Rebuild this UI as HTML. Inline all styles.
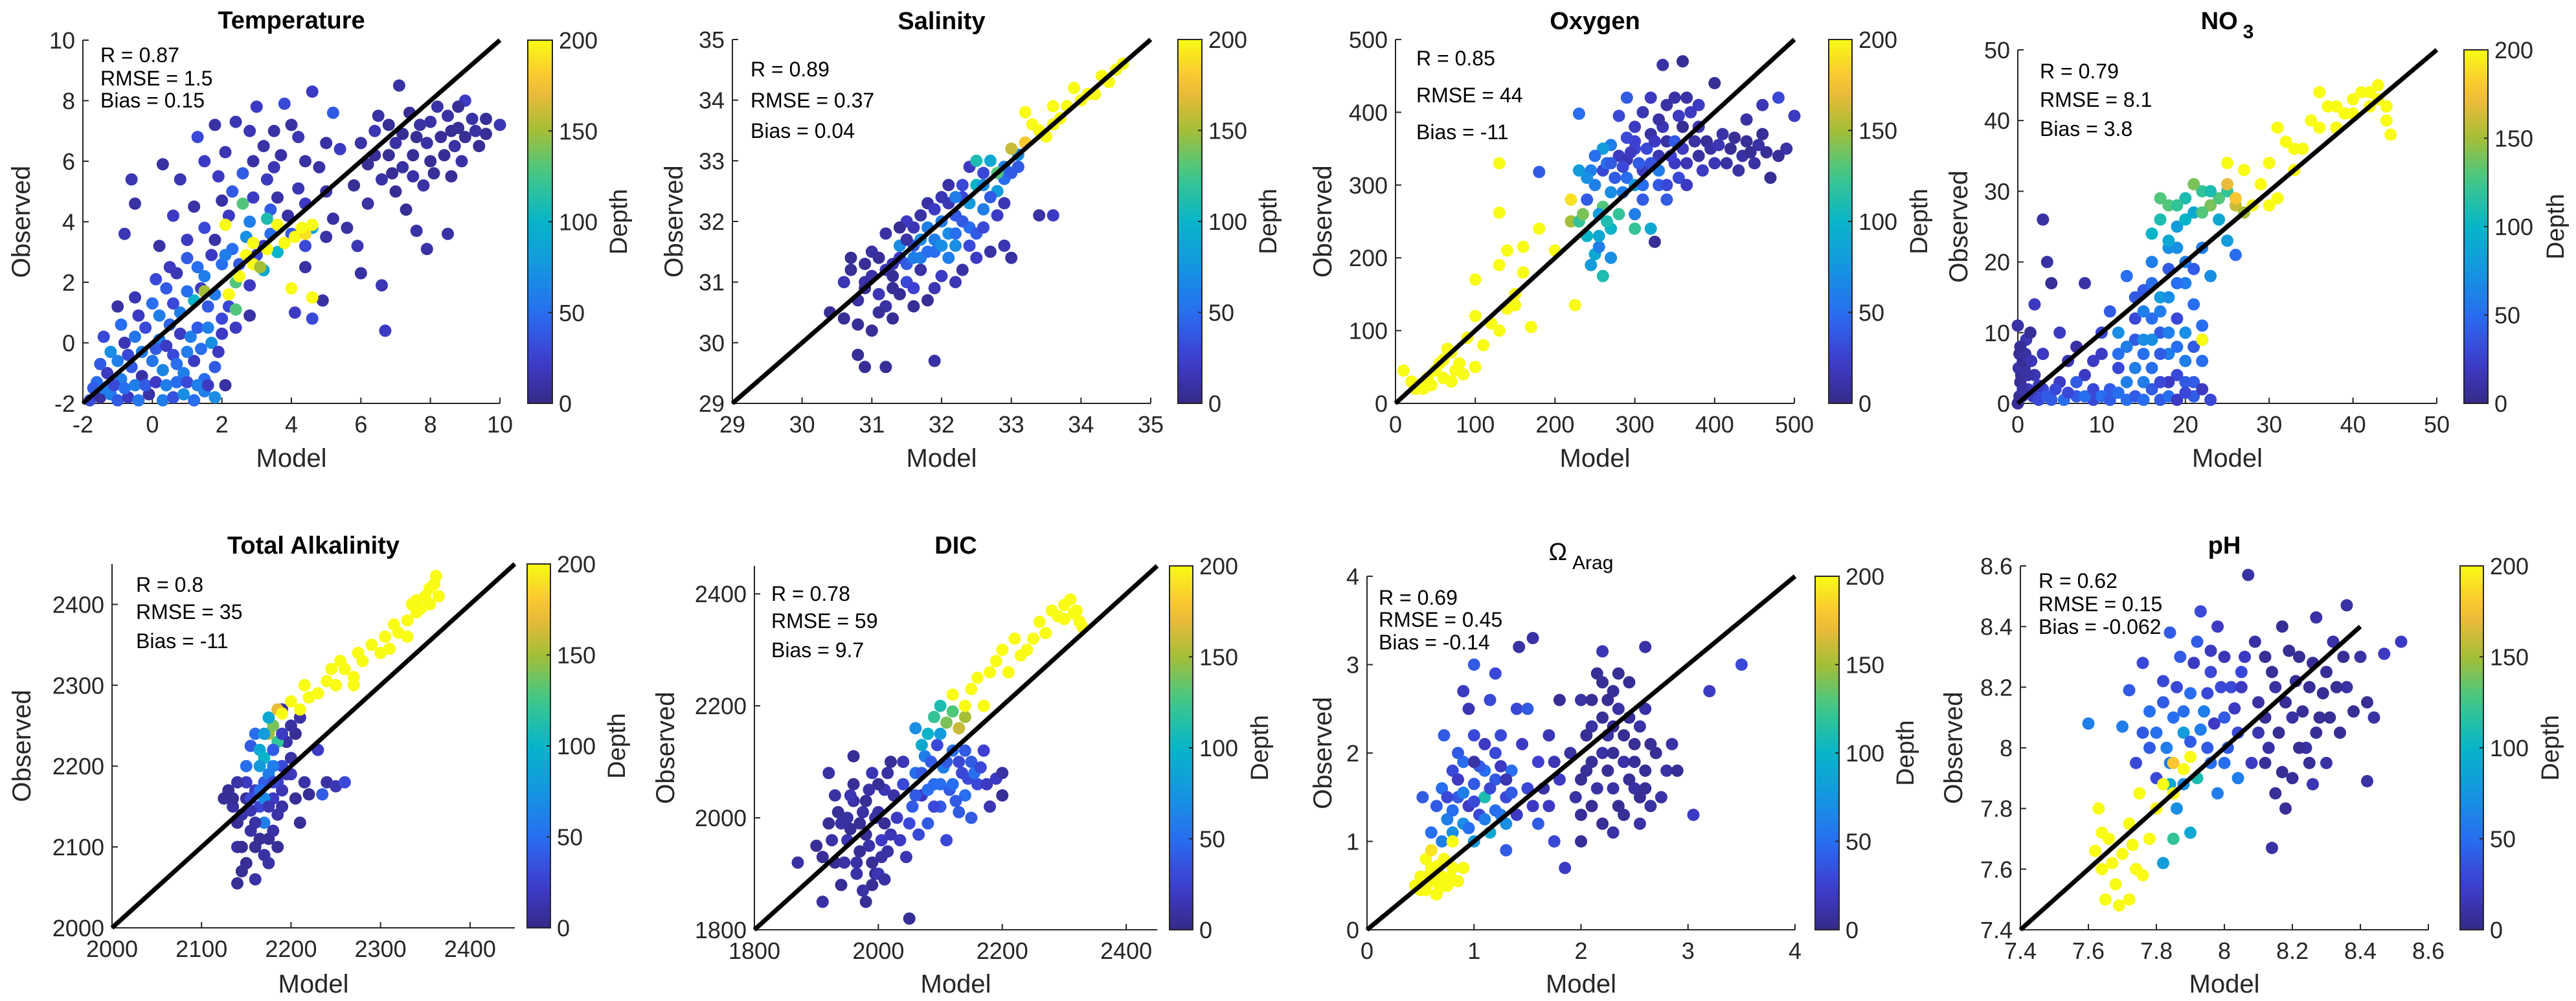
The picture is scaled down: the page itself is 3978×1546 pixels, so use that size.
<!DOCTYPE html>
<html><head><meta charset="utf-8">
<style>
html,body{margin:0;padding:0;background:#fff;}
svg{display:block;font-family:"Liberation Sans Narrow","Liberation Sans",sans-serif;}
</style></head>
<body>
<svg id="fig" xmlns="http://www.w3.org/2000/svg" width="3978" height="1546" viewBox="0 0 3978 1546"></svg>
<script>
// ---------- DATA: [model, observed, depth] ----------
const tempPts=[[-1.8,-1.9,30],[-1.5,-1.8,10],[-1.2,-1.7,60],[-1,-1.9,40],[-0.7,-1.8,20],[-0.4,-1.9,55],[-0.1,-1.7,10],[0.3,-1.9,60],[0.6,-1.8,35],[0.9,-1.7,70],[1.2,-1.9,50],[1.5,-1.6,60],[1.8,-1.8,70],[-1.6,-1.3,50],[-1.3,-1.0,20],[-0.9,-1.2,60],[-0.6,-0.8,40],[-0.3,-1.1,10],[0,-0.6,55],[0.3,-0.9,65],[0.6,-0.4,30],[0.9,-1.0,60],[1.2,-0.6,20],[1.5,-1.2,50],[1.8,-0.8,40],[2.1,-1.4,10],[-1.2,-0.3,70],[-0.8,0,15],[-0.5,0.2,55],[-0.2,0.5,30],[0.2,0.1,60],[0.5,0.6,45],[0.8,0.3,20],[1.1,0.2,60],[1.4,-0.2,50],[1.7,0.0,70],[2.0,0.3,20],[-1.0,1.2,10],[-0.5,1.5,15],[0,1.3,50],[0.4,1.8,40],[0.8,1.0,60],[1.2,1.4,100],[1.6,1.2,40],[2.0,0.8,30],[2.4,0.5,20],[2.8,0.9,10],[0.5,2.5,20],[1.0,2.8,40],[1.5,2.2,60],[2.0,2.6,50],[2.4,2.0,130],[2.8,1.9,20],[3.2,2.4,90],[1.8,3.4,10],[2.3,3.1,50],[2.7,3.5,70],[3.2,3.2,20],[3.6,3.0,100],[4.0,3.6,40],[4.4,3.2,30],[2.2,4.2,20],[2.8,4.0,60],[3.4,4.4,40],[3.9,4.2,10],[4.6,3.8,80],[5.2,4.1,10],[5.6,3.8,10],[1.2,4.5,10],[0.6,4.2,20],[-0.5,4.6,10],[-0.8,3.6,15],[-0.6,5.4,15],[0.3,5.9,10],[0.8,5.4,15],[1.5,6.0,20],[2.1,6.3,15],[2.6,5.6,40],[3.2,6.5,10],[3.7,6.2,10],[4.2,6.8,15],[1.3,6.8,30],[2.4,7.3,15],[3.0,7.8,20],[4.0,7.2,10],[4.6,8.3,20],[3.8,7.9,30],[1.8,7.2,10],[2.3,5.0,40],[3.3,5.4,20],[4.2,5.1,15],[4.8,5.8,10],[5.4,6.4,20],[5.2,7.6,40],[6.0,6.6,10],[6.4,7.0,15],[6.8,6.2,5],[7.2,5.8,10],[7.6,6.8,5],[8.0,7.3,10],[8.4,6.2,5],[8.8,7.1,5],[9.2,7.4,10],[9.6,6.9,5],[10,7.2,15],[9.0,8.0,20],[8.2,7.8,10],[7.4,7.6,5],[6.6,5.4,10],[7.0,5.0,5],[7.8,5.2,10],[8.6,5.5,5],[6.2,4.6,10],[5.8,5.2,5],[7.1,8.5,10],[6.5,7.5,10],[7.3,4.4,5],[9.4,6.5,5],[8.0,6.0,5],[5.0,3.5,10],[6.0,2.3,10],[6.6,1.9,15],[6.7,0.4,20],[7.6,3.7,10],[8.5,3.6,10],[7.9,3.1,10],[5.9,3.2,15],[4.9,1.4,10],[4.1,1.0,20],[4.6,0.8,30],[4.4,2.5,10],
[-1.7,-1.5,40],[-1.4,-1.5,60],[-1.1,-1.4,30],[-0.8,-1.5,50],[-0.5,-1.4,60],[-0.2,-1.4,40],[0.1,-1.3,20],[0.4,-1.4,60],[0.7,-1.3,50],[1.0,-1.3,30],[1.3,-1.4,60],[1.6,-1.4,20],[-1.5,-0.7,40],[-1.0,-0.6,60],[-0.7,-0.4,30],[-0.3,-0.3,60],[0.1,-0.2,40],[0.4,-0.1,20],[0.7,-0.7,50],[1.0,-0.3,60],[1.3,0.5,40],[1.6,0.5,60],[1.9,-0.3,20],[-1.4,0.2,30],[-0.9,0.6,50],[-0.4,0.9,20],[0.2,0.9,60],[0.6,1.3,30],[1.0,1.7,50],[1.4,1.8,20],[1.8,1.6,60],[2.2,1.2,30],[0.1,2.1,30],[0.7,2.3,15],[1.3,2.5,50],[1.7,2.9,20],[2.1,2.9,60],[2.5,2.6,40],[3.0,2.9,30],[3.4,3.6,50],[1.0,3.4,20],[0.2,3.2,10],[1.5,3.8,30],[2.0,4.7,10],[2.9,4.8,20],[3.6,4.8,10],[4.4,4.6,20],[5.0,5.0,10],[1.9,5.5,20],[2.9,6.0,10],[3.5,5.8,15],[4.4,6.0,10],[5.0,6.6,10],[2.8,7.0,15],[3.5,7.0,10],[6.2,5.9,5],[6.8,7.2,5],[7.0,6.6,10],[7.5,6.2,5],[7.9,6.6,10],[8.3,6.8,5],[8.7,6.5,10],[9.0,6.8,5],[9.3,7.0,10],[9.6,7.4,5],[8.5,7.5,10],[8.8,7.8,5],[7.7,7.2,10],[6.9,5.6,5],[7.5,5.5,10],[8.1,5.6,5],[8.9,6.0,10],[6.4,6.2,5],[7.2,6.9,5],[8.6,7.0,5],
[2.2,1.6,200],[2.5,2.2,200],[2.9,2.6,200],[3.3,3.1,200],[3.6,3.9,200],[4.1,3.5,200],[4.4,3.6,190],[4.6,3.9,200],[2.9,3.3,200],[2.1,3.9,200],[4.0,1.8,200],[4.6,1.5,200],[3.1,2.5,150],[2.4,1.1,130],[1.5,1.7,150],[2.6,4.6,130],[3.3,4.1,110],[3.8,3.3,200],[4.3,3.8,200],[2.7,2.9,200]];
const salPts=[[30.4,30.5,5],[30.6,30.4,5],[30.8,30.7,10],[30.7,31.2,5],[30.9,31.0,10],[30.8,30.3,5],[30.8,29.8,5],[30.9,29.6,5],[31.2,29.6,5],[31.9,29.7,10],[31.0,30.2,5],[31.2,30.6,10],[31.4,30.8,5],[31.0,31.5,10],[31.2,31.2,15],[31.4,31.4,20],[31.5,31.0,30],[31.6,31.6,40],[31.7,31.2,10],[31.8,31.9,60],[31.9,31.5,50],[32.0,31.1,20],[32.1,31.8,70],[32.2,32.1,40],[32.0,32.4,15],[31.5,32.0,20],[31.2,31.8,10],[31.6,30.9,25],[31.9,30.9,15],[32.3,31.2,10],[32.5,31.4,20],[32.7,31.5,10],[32.4,31.9,50],[32.6,32.2,60],[32.8,32.5,80],[32.5,32.6,100],[32.3,32.4,30],[32.1,32.6,10],[32.4,32.9,20],[32.7,33.0,90],[32.9,32.9,60],[33.1,33.1,70],[33.4,32.1,10],[33.6,32.1,20],[33.0,31.4,10],[32.9,31.6,15],[31.4,31.6,70],[31.7,31.4,60],[32.2,31.6,70],[31.3,31.1,5],[30.6,31.0,15],[31.1,30.8,15],[32.0,32.0,60],[31.8,32.3,10],[32.2,31.0,15],[32.4,32.3,80],[32.5,33.0,110],
[30.7,31.4,5],[30.9,31.3,5],[31.0,31.1,10],[31.1,31.4,5],[31.3,31.3,15],[31.3,30.9,5],[31.5,31.3,40],[31.6,31.4,60],[31.7,31.7,70],[31.8,31.5,50],[31.9,31.7,60],[32.0,31.6,70],[32.1,31.4,60],[32.2,31.8,50],[32.3,32.0,40],[32.4,31.6,30],[32.5,31.8,40],[32.6,31.9,30],[32.7,32.4,40],[32.8,32.1,20],[32.9,32.7,50],[33.0,32.8,40],[31.5,31.7,10],[31.6,31.9,15],[31.7,32.1,10],[31.9,32.2,20],[32.1,32.3,15],[32.3,32.6,30],[32.6,32.8,30],[32.9,32.3,15],[31.1,30.5,5],[31.3,30.4,5],[31.6,30.6,5],[31.8,30.7,5],[30.9,30.9,5],[31.4,31.9,5],[32.2,32.4,60],[32.6,32.6,70],[33.1,32.9,40],
[32.8,32.8,130],[33.0,33.2,160],[33.2,33.3,180],[33.4,33.5,200],[33.6,33.6,200],[33.8,33.9,200],[34.0,34.0,200],[34.2,34.1,200],[34.4,34.3,200],[34.6,34.6,200],[33.2,33.8,200],[33.6,33.9,200],[33.9,34.2,200],[34.5,34.5,200],[33.5,33.4,200],[33.3,33.6,200],[33.7,33.7,200],[34.1,34.1,200],[34.3,34.4,200]];
const oxyPts=[[220,250,150],[230,250,120],[240,230,100],[245,190,80],[250,205,90],[260,175,110],[255,215,60],[240,280,40],[250,300,60],[260,320,30],[270,290,70],[280,340,20],[290,310,50],[300,260,60],[300,350,30],[310,320,20],[320,370,10],[330,300,40],[330,340,15],[340,360,10],[350,330,20],[360,380,5],[350,420,10],[370,400,20],[380,340,10],[390,360,5],[400,330,15],[410,370,10],[420,350,5],[430,320,10],[440,360,5],[450,330,10],[460,370,5],[470,310,5],[480,340,5],[490,350,10],[500,395,20],[480,420,30],[460,410,15],[440,390,10],[400,440,5],[360,470,5],[335,465,10],[320,420,20],[290,420,40],[270,355,60],[260,350,80],[280,395,30],[300,300,80],[310,280,40],[320,240,90],[280,260,120],[270,240,100],[230,320,80],[245,320,60],[300,360,25],[320,330,35],[340,300,30],[360,350,20],[380,380,15],[290,335,15],[330,320,60],[350,360,40],[180,318,40],[230,398,50],[325,222,5],[260,270,130],[300,240,120],
[265,330,50],[275,310,40],[285,325,30],[295,345,20],[305,330,40],[315,350,30],[325,360,20],[335,380,15],[345,340,25],[355,310,30],[365,330,15],[375,360,10],[385,320,20],[395,350,10],[405,355,15],[415,330,10],[425,365,5],[435,340,10],[445,345,5],[455,355,10],[465,345,5],[300,380,20],[310,400,15],[340,410,10],[365,420,10],[380,410,20],[330,390,10],[355,395,20],[290,365,30],[270,330,40],[250,340,50],[240,310,70],[255,260,80],[265,250,110],[285,290,60],[310,300,50],[340,280,40],[365,300,20],[270,200,70],[255,230,90],[235,260,140],
[10,45,200],[20,30,200],[30,25,200],[40,35,200],[50,45,200],[60,60,200],[70,70,200],[80,55,200],[90,90,200],[70,30,200],[100,50,200],[110,80,200],[100,120,200],[120,110,200],[100,170,200],[130,100,200],[140,130,200],[150,150,200],[130,190,200],[160,180,200],[170,105,200],[160,215,200],[180,240,200],[200,210,200],[130,330,200],[130,262,200],[140,210,200],[225,135,200],[220,280,190],[35,20,200],[60,35,200],[85,40,200],[150,135,200],[25,20,200],[45,25,200],[55,55,200],[75,45,200],[65,75,200]];
const no3Pts=[[0,0,5],[0.5,1,10],[0.3,3,5],[0.8,5,10],[0.2,7,5],[1,9,15],[0,11,10],[1.5,10,5],[1.2,2,20],[2,4,15],[3,7,20],[3,2,30],[4,0.5,40],[5,3,20],[6,6,15],[7,1,40],[8,4,20],[9,0.5,30],[10,7,20],[11,2,40],[12,5,30],[13,0.5,50],[14,9,40],[15,3,60],[16,12,50],[17,0.5,40],[18,7,60],[19,4,30],[20,10,70],[21,1,40],[22,6,50],[23,0.5,30],[22,9,60],[21,14,50],[20,17,60],[19,22,70],[18,19,40],[17,15,80],[16,20,60],[15,16,40],[14,12,30],[13,18,50],[12,10,70],[11,13,40],[13,8,60],[15,9,70],[17,10,40],[19,12,30],[18,3,20],[16,5,50],[20,3,40],[5,10,20],[3,26,10],[3.5,20,10],[4,17,5],[2,14,20],[8,17,10],
[0.2,1,5],[0.6,2,10],[0.4,4,5],[0.1,5,10],[0.6,6,5],[0.9,7,10],[0.3,8,5],[1.2,4,10],[1.6,6,15],[1.8,1,20],[2.5,0.5,30],[2.5,2.5,20],[3.5,1,40],[4.5,2,30],[5.5,0.5,50],[6,1.5,30],[7,3,40],[8,1,50],[9,2,30],[10,1,50],[11,0.5,40],[12,1.5,50],[13,3,60],[14,1,40],[15,0.5,50],[16,2,40],[17,3,30],[18,1,50],[19,0.5,20],[20,1.5,30],[21,3,40],[22,2,20],[14,5,60],[15,7,50],[16,9,70],[17,7,40],[18,10,60],[19,8,50],[20,6,60],[21,8,40],[22,11,50],[17,13,60],[18,15,70],[19,17,50],[20,20,60],[21,19,40],[18,22,70],[16,17,50],[15,13,60],[14,15,40],[12,7,50],[10,10,30],[9,6,20],[7,8,10],
[16,24,100],[17,26,110],[18,28,130],[19,25,80],[20,29,110],[21,27,90],[22,30,120],[23,28,140],[24,29,130],[25,30,120],[26,28,160],[27,27,150],[24,26,90],[25,23,80],[22,22,60],[23,18,70],[26,21,50],[18,23,90],[21,31,140],[17,29,130],[19,28,120],[20,26,100],[22,27,130],[23,30,110],
[28,28,200],[29,31,200],[30,34,200],[31,39,200],[32,37,200],[33,33,200],[34,36,200],[35,40,200],[36,44,200],[37,42,200],[38,39,200],[39,41,200],[40,43,200],[41,44,200],[42,42,200],[43,45,200],[44,40,200],[44.5,38,200],[27,33,200],[25,34,200],[30,28,200],[31,29,200],[22,9,200],[26,29,180],[25,31,170],[42,44,200],[43,43,200],[44,42,200],[40,41,200],[38,42,200],[36,39,200],[33,36,200]];
const taPts=[[2130,2170,5],[2135,2150,10],[2140,2130,5],[2140,2100,10],[2145,2070,5],[2140,2055,5],[2160,2060,10],[2150,2180,20],[2155,2120,10],[2160,2100,5],[2165,2150,30],[2170,2130,60],[2170,2180,40],[2175,2080,10],[2175,2110,5],[2180,2160,20],[2185,2140,10],[2190,2170,15],[2190,2200,30],[2195,2230,10],[2200,2190,20],[2205,2240,5],[2210,2260,10],[2210,2130,5],[2215,2180,10],[2220,2165,5],[2230,2220,20],[2240,2180,10],[2250,2175,15],[2260,2180,30],[2235,2165,40],[2160,2240,50],[2155,2225,40],[2165,2220,90],[2170,2210,100],[2175,2240,150],[2180,2250,140],[2175,2260,90],[2165,2200,80],[2185,2230,120],[2180,2200,60],[2190,2270,10],[2170,2160,70],[2150,2200,50],
[2135,2160,5],[2145,2140,10],[2150,2160,5],[2155,2145,15],[2160,2130,10],[2160,2170,20],[2165,2110,5],[2170,2090,10],[2175,2150,15],[2180,2120,10],[2185,2180,20],[2185,2100,5],[2190,2150,10],[2195,2190,15],[2200,2210,10],[2205,2160,5],[2145,2100,5],[2150,2080,5],[2155,2160,30],[2165,2170,50],[2175,2190,60],[2180,2220,40],[2190,2240,20],[2200,2250,10],[2170,2240,80],[2180,2180,30],[2125,2160,5],[2140,2180,10],
[2185,2270,170],[2190,2265,200],[2200,2280,200],[2210,2270,200],[2220,2285,200],[2230,2290,200],[2240,2305,200],[2250,2300,200],[2255,2330,200],[2260,2320,200],[2270,2310,200],[2275,2340,200],[2290,2350,200],[2300,2340,200],[2305,2360,200],[2310,2345,200],[2315,2375,200],[2320,2365,200],[2330,2380,200],[2335,2400,200],[2340,2390,200],[2345,2395,200],[2350,2410,200],[2355,2420,200],[2360,2425,200],[2362,2435,200],[2365,2410,200],[2330,2360,200],[2215,2300,200],[2270,2300,200],[2245,2320,200],[2280,2330,200],[2340,2405,200],[2355,2400,200]];
const dicPts=[[1870,1920,10],[1900,1950,5],[1910,1850,10],[1920,1990,5],[1930,2040,10],[1940,1880,5],[1950,2000,10],[1950,1960,15],[1960,2060,5],[1965,1920,10],[1970,1990,5],[1975,1870,10],[1980,2030,5],[1985,1950,10],[1990,2080,15],[1995,1900,5],[2000,2010,10],[2005,1960,20],[2010,2050,15],[2015,1940,10],[2020,2100,5],[2030,2000,20],[2040,2060,30],[2045,1930,15],[2050,1820,5],[2055,2020,40],[2060,2080,50],[2065,1970,30],[2070,2040,20],[2075,2110,60],[2080,1990,40],[2090,2060,50],[2095,2130,30],[2100,2020,40],[2105,2090,60],[2110,1960,30],[2115,2050,40],[2120,2120,50],[2130,2010,40],[2135,2080,30],[2140,2040,50],[2150,2100,40],[2160,2060,30],[2170,2120,25],[2180,2020,15],[2190,2070,20],[2200,2080,10],[2200,2040,5],[1960,2110,5],[1920,2080,10],[1980,1850,5],[2000,1900,15],[2150,2000,40],
[1910,1930,5],[1925,1960,10],[1935,2010,5],[1945,1920,10],[1955,1980,5],[1960,2030,10],[1970,1940,5],[1975,2010,10],[1980,1970,5],[1985,2050,10],[1990,1920,5],[1995,2000,10],[2000,2060,5],[2005,1930,10],[2010,1990,5],[2015,2080,10],[2020,1970,15],[2025,2040,10],[2035,1960,20],[2040,2100,15],[2050,1990,30],[2060,2040,40],[2070,2080,40],[2080,2050,50],[2085,2100,40],[2090,2020,30],[2100,2060,50],[2110,2100,40],[2120,2060,50],[2125,2030,40],[2130,2100,30],[2140,2120,40],[2145,2070,30],[2155,2080,50],[2165,2090,30],[2175,2060,20],[1940,1990,10],[1955,2040,15],[1965,1900,10],[1990,1880,5],[2010,1890,10],[1930,1920,5],
[2080,2150,100],[2070,2130,90],[2090,2180,120],[2100,2200,110],[2110,2170,140],[2120,2190,130],[2130,2160,160],[2140,2180,150],[2100,2150,80],[2060,2160,70],
[2150,2230,200],[2160,2250,200],[2170,2200,200],[2180,2260,200],[2190,2280,200],[2200,2300,200],[2210,2260,200],[2220,2320,200],[2230,2290,200],[2240,2300,200],[2260,2350,200],[2270,2330,200],[2280,2370,200],[2290,2360,200],[2300,2380,200],[2310,2390,200],[2320,2370,200],[2325,2350,200],[2330,2340,200],[2140,2200,200],[2120,2220,200],[2300,2355,200],[2315,2365,200],[2250,2320,200]];
const omgPts=[[0.6,1.1,50],[0.65,1.4,40],[0.7,1.6,50],[0.75,1.25,60],[0.8,1.8,30],[0.85,1.5,40],[0.9,1.2,70],[0.9,1.9,50],[0.95,1.4,20],[1.0,1.65,40],[1.0,1.0,80],[1.05,1.3,30],[1.1,1.8,50],[1.1,1.5,110],[1.15,1.1,90],[1.2,1.7,40],[1.2,2.0,30],[1.25,1.3,60],[1.3,0.9,40],[1.3,1.5,30],[1.35,1.8,50],[1.0,2.2,30],[0.95,2.5,15],[1.0,3.0,40],[1.2,2.9,30],[0.9,2.7,20],[1.15,2.6,30],[0.72,2.2,40],[0.52,1.5,40],[1.4,1.3,20],[1.5,1.6,30],[1.45,2.1,20],[1.6,1.2,40],[1.6,1.9,25],[1.7,1.4,20],[1.7,2.2,15],[1.75,1.0,30],[1.8,1.7,20],[1.85,0.7,20],[1.4,2.5,30],[1.5,2.5,40],[1.42,3.2,10],[1.55,3.3,10],[1.8,2.6,5],[1.9,2.0,10],
[0.7,1.0,60],[0.75,1.5,30],[0.8,1.35,50],[0.85,1.7,20],[0.9,1.55,60],[0.95,1.15,50],[1.0,1.45,30],[1.05,1.85,40],[1.1,1.25,60],[1.15,1.6,30],[1.2,1.35,50],[1.25,1.85,20],[1.3,1.2,70],[1.35,1.55,40],[1.0,1.9,10],[0.85,2.0,40],[0.8,1.1,70],[1.1,2.1,20],[1.25,2.2,30],[1.3,1.7,15],[1.55,1.4,20],[1.65,1.6,10],[1.75,1.9,15],
[1.95,1.5,10],[2.0,2.6,10],[2.05,1.8,5],[2.1,2.3,10],[2.1,1.4,5],[2.15,2.9,5],[2.2,2.0,10],[2.2,1.2,5],[2.25,2.6,5],[2.3,1.6,10],[2.3,2.3,5],[2.35,2.9,5],[2.4,1.9,10],[2.4,1.3,5],[2.45,2.4,5],[2.5,1.6,10],[2.5,2.1,5],[2.55,1.2,10],[2.6,1.8,5],[2.6,2.5,10],[2.7,2.0,5],[2.65,1.4,10],[2.8,1.8,10],[2.9,1.8,5],[2.85,2.1,10],[2.6,3.2,10],[3.2,2.7,20],[3.5,3.0,30],[3.05,1.3,20],[2.2,3.15,15],[2.75,1.5,10],[2.0,1.0,5],[2.3,1.1,10],
[2.0,1.7,5],[2.05,2.2,5],[2.1,1.9,5],[2.15,1.6,10],[2.2,2.4,5],[2.25,1.8,5],[2.25,2.2,10],[2.3,2.0,5],[2.3,2.7,5],[2.35,1.4,5],[2.35,2.5,10],[2.4,2.2,5],[2.45,1.7,5],[2.45,2.8,5],[2.5,1.9,5],[2.55,1.5,5],[2.55,2.3,10],[2.6,1.6,5],[2.65,2.1,5],[2.1,2.6,5],[2.2,2.8,5],[2.0,1.3,5],
[0.45,0.5,200],[0.5,0.6,200],[0.55,0.45,200],[0.6,0.7,200],[0.62,0.55,200],[0.65,0.4,200],[0.7,0.6,200],[0.72,0.8,200],[0.75,0.5,200],[0.8,0.7,200],[0.85,0.55,200],[0.55,0.8,200],[0.9,0.7,200],[0.6,0.9,190],[0.8,1.0,200],[0.5,0.45,200],[0.58,0.62,200],[0.68,0.48,200],[0.66,0.72,200],[0.78,0.6,200]];
const phPts=[[7.6,8.08,60],[7.7,8.07,60],[7.72,8.19,40],[7.74,7.95,30],[7.76,8.05,40],[7.78,8.12,50],[7.8,7.9,30],[7.82,8.22,30],[7.83,8.0,60],[7.85,8.1,50],[7.86,7.8,70],[7.87,8.3,40],[7.88,8.05,80],[7.9,8.18,50],[7.9,7.72,90],[7.92,7.9,110],[7.92,8.35,40],[7.94,8.12,60],[7.95,8.0,40],[7.96,8.25,30],[7.98,7.85,60],[7.98,8.4,20],[8.0,8.1,40],[8.0,7.95,50],[8.02,8.2,30],[8.04,7.9,60],[8.04,8.05,30],[8.06,8.3,20],[7.85,7.7,120],[7.82,7.62,80],[7.93,8.45,30],[7.84,8.38,40],[7.76,8.28,30],[8.08,7.95,20],
[7.8,8.05,50],[7.82,8.15,40],[7.84,7.95,60],[7.86,8.2,30],[7.88,8.12,50],[7.9,8.02,40],[7.91,8.28,20],[7.93,8.06,60],[7.95,8.18,30],[7.96,7.95,50],[7.97,8.08,20],[7.99,8.2,30],[8.01,8.0,40],[8.03,8.13,20],[8.05,8.25,30],[7.88,7.88,70],[7.84,7.88,90],[7.96,8.32,20],[8.0,8.3,15],[7.78,8.0,40],
[8.1,8.15,10],[8.12,8.3,5],[8.13,8.0,10],[8.15,7.85,5],[8.15,8.2,10],[8.17,8.4,5],[8.2,8.1,10],[8.2,7.9,5],[8.22,8.3,5],[8.24,8.0,10],[8.25,8.2,5],[8.27,8.43,10],[8.28,8.1,5],[8.3,7.95,10],[8.3,8.25,5],[8.32,8.35,10],[8.34,8.05,5],[8.36,8.2,10],[8.38,8.12,5],[8.4,8.3,10],[8.42,8.15,5],[8.44,8.1,10],[8.18,7.8,5],[8.1,8.05,15],[8.07,8.57,10],[8.14,7.67,10],[8.52,8.35,20],[8.47,8.31,20],[8.42,7.89,10],[8.36,8.47,10],[8.05,8.2,20],[8.26,7.88,15],
[8.12,8.1,5],[8.14,8.25,5],[8.16,8.05,5],[8.18,8.15,5],[8.19,8.32,5],[8.21,8.22,5],[8.22,8.0,5],[8.23,8.12,5],[8.26,8.28,5],[8.27,8.05,5],[8.29,8.18,5],[8.31,8.1,5],[8.33,8.2,5],[8.35,8.3,5],[8.12,7.95,5],[8.17,7.92,5],[8.25,7.95,5],[8.09,8.35,10],
[7.62,7.66,200],[7.63,7.8,200],[7.64,7.6,200],[7.65,7.5,200],[7.66,7.7,200],[7.68,7.55,200],[7.7,7.65,200],[7.72,7.5,200],[7.72,7.75,200],[7.74,7.6,200],[7.75,7.85,200],[7.76,7.58,200],[7.78,7.7,200],[7.8,7.8,200],[7.82,7.88,200],[7.85,7.85,200],[7.88,7.93,200],[7.85,7.95,180],[7.9,7.97,200],[7.64,7.72,200],[7.67,7.62,200],[7.69,7.48,200],[7.73,7.68,200]];
const statTemp=["R = 0.87","RMSE = 1.5","Bias = 0.15"];
const statSal=["R = 0.89","RMSE = 0.37","Bias = 0.04"];
const statOxy=["R = 0.85","RMSE = 44","Bias = -11"];
const statNo3=["R = 0.79","RMSE = 8.1","Bias = 3.8"];
const statTa=["R = 0.8","RMSE = 35","Bias = -11"];
const statDic=["R = 0.78","RMSE = 59","Bias = 9.7"];
const statOmg=["R = 0.69","RMSE = 0.45","Bias = -0.14"];
const statPh=["R = 0.62","RMSE = 0.15","Bias = -0.062"];
const cbTicks=[0,50,100,150,200];

// ---------- LAYOUT ----------
const panels=[
 {key:"temperature",title:"Temperature",pts:tempPts,st:statTemp,xr:[-2,10],yr:[-2,10],xt:[-2,0,2,4,6,8,10],yt:[-2,0,2,4,6,8,10],ax:[128,62,772,623],cb:[815,853],sx:155,sy:[85,121,155],oy:32,dx:955,ty:31,ln:[-2,10]},
 {key:"salinity",title:"Salinity",pts:salPts,st:statSal,xr:[29,35],yr:[29,35],xt:[29,30,31,32,33,34,35],yt:[29,30,31,32,33,34,35],ax:[1131,61,1777,623],cb:[1819,1856],sx:1159,sy:[107,155,202],oy:1040,dx:1958,ty:32,ln:[29,35]},
 {key:"oxygen",title:"Oxygen",pts:oxyPts,st:statOxy,xr:[0,500],yr:[0,500],xt:[0,100,200,300,400,500],yt:[0,100,200,300,400,500],ax:[2155,61,2771,623],cb:[2824,2860],sx:2187,sy:[90,147,204],oy:2042,dx:2963,ty:32,ln:[0,500]},
 {key:"no3",title:"NO",sub:"3",pts:no3Pts,st:statNo3,xr:[0,50],yr:[0,50],xt:[0,10,20,30,40,50],yt:[0,10,20,30,40,50],ax:[3116,77,3763,623],cb:[3805,3842],sx:3150,sy:[110,154,199],oy:3024,dx:3946,ty:32,ln:[0,50]},
 {key:"alkalinity",title:"Total Alkalinity",pts:taPts,st:statTa,xr:[2000,2450],yr:[2000,2450],xt:[2000,2100,2200,2300,2400],yt:[2000,2100,2200,2300,2400],ax:[173,871,795,1433],cb:[814,850],sx:210,sy:[903,945,990],oy:33,dx:952,ty:842,ln:[2000,2450]},
 {key:"dic",title:"DIC",pts:dicPts,st:statDic,xr:[1800,2450],yr:[1800,2450],xt:[1800,2000,2200,2400],yt:[1800,2000,2200,2400],ax:[1165,874,1787,1436],cb:[1806,1842],sx:1191,sy:[917,959,1004],oy:1027,dx:1945,ty:842,ln:[1800,2450]},
 {key:"omega",title:"\u03A9",sub:"Arag",normal:true,pts:omgPts,st:statOmg,xr:[0,4],yr:[0,4],xt:[0,1,2,3,4],yt:[0,1,2,3,4],ax:[2111,890,2772,1436],cb:[2803,2840],sx:2129,sy:[923,957,992],oy:2042,dx:2942,ty:852,ln:[0,4]},
 {key:"ph",title:"pH",pts:phPts,st:statPh,xr:[7.4,8.6],yr:[7.4,8.6],xt:[7.4,7.6,7.8,8,8.2,8.4,8.6],yt:[7.4,7.6,7.8,8,8.2,8.4,8.6],ax:[3120,874,3750,1436],cb:[3799,3835],sx:3148,sy:[897,933,968],oy:3016,dx:3938,ty:842,ln:[7.4,8.4]}
];

const NS="http://www.w3.org/2000/svg";
const svg=document.getElementById('fig');
function mk(tag,attrs,parent){const e=document.createElementNS(NS,tag);for(const k in attrs)e.setAttribute(k,attrs[k]);(parent||svg).appendChild(e);return e;}
const stops=[[0,[53,42,135]],[0.125,[62,62,210]],[0.25,[40,110,240]],[0.375,[20,150,225]],[0.5,[8,180,200]],[0.625,[60,200,140]],[0.75,[165,190,55]],[0.875,[250,186,57]],[1,[249,251,20]]];
function parula(t){t=Math.max(0,Math.min(1,t));for(let i=1;i<stops.length;i++){if(t<=stops[i][0]){const a=stops[i-1],b=stops[i];const f=(t-a[0])/(b[0]-a[0]);const c=a[1].map((v,j)=>Math.round(v+(b[1][j]-v)*f));return `rgb(${c[0]},${c[1]},${c[2]})`;}}return 'rgb(249,251,20)';}
function fmt(v){return String(+v.toFixed(2));}

const defs=mk('defs',{});
const grad=mk('linearGradient',{id:'parula',x1:'0',y1:'1',x2:'0',y2:'0'},defs);
for(let i=0;i<=20;i++){mk('stop',{offset:(i/20),'stop-color':parula(i/20)},grad);}

panels.forEach(p=>{
  const g=mk('g',{});
  
  
  const [L,T,R,B]=p.ax;
  const xs=v=>L+(v-p.xr[0])/(p.xr[1]-p.xr[0])*(R-L);
  const ys=v=>B-(v-p.yr[0])/(p.yr[1]-p.yr[0])*(B-T);
  const axl=mk('path',{d:`M${L},${T}V${B}H${R}`,stroke:'#262626','stroke-width':2,fill:'none'},g);
  
  
  p.xt.forEach(v=>{
    mk('line',{x1:xs(v),x2:xs(v),y1:B,y2:B-9,stroke:'#262626','stroke-width':2},g);
    const t=mk('text',{x:xs(v),y:B+45,'font-size':36,'text-anchor':'middle',fill:'#262626'},g);
    t.textContent=fmt(v);
    
    
  });
  p.yt.forEach(v=>{
    mk('line',{x1:L,x2:L+9,y1:ys(v),y2:ys(v),stroke:'#262626','stroke-width':2},g);
    const t=mk('text',{x:L-12,y:ys(v)+13,'font-size':36,'text-anchor':'end',fill:'#262626'},g);
    t.textContent=fmt(v);
    
    
  });
  const pg=mk('g',{},g);
  
  
  p.pts.forEach(pt=>{
    const c=mk('circle',{cx:xs(pt[0]).toFixed(1),cy:ys(pt[1]).toFixed(1),r:9.5,fill:parula(pt[2]/200)},pg);
    
    
  });
  const l=mk('line',{x1:xs(p.ln[0]),y1:ys(p.ln[0]),x2:xs(p.ln[1]),y2:ys(p.ln[1]),stroke:'#000','stroke-width':7},g);
  
  
  p.st.forEach((s,i)=>{
    const t=mk('text',{x:p.sx,y:p.sy[i]+11,'font-size':32,fill:'#000'},g);
    t.textContent=s;
    
    
  });
  const tt=mk('text',{x:(L+R)/2,y:p.ty+13,'font-size':38,'font-weight':p.normal?'normal':'bold','text-anchor':'middle',fill:'#000'},g);
  
  
  tt.appendChild(document.createTextNode(p.title));
  if(p.sub){const ts=mk('tspan',{dx:8,dy:14,'font-size':30},tt);ts.textContent=p.sub;}
  const xl=mk('text',{x:(L+R)/2,y:(B<700?707:1519)+14,'font-size':40,'text-anchor':'middle',fill:'#262626'},g);
  xl.textContent='Model';
  
  
  const yc=(T+B)/2;
  const yl=mk('text',{x:p.oy,y:yc,'font-size':40,'text-anchor':'middle',fill:'#262626',transform:`rotate(-90 ${p.oy} ${yc}) translate(0 14)`},g);
  yl.textContent='Observed';
  
  
  const [cL,cR]=p.cb;
  const cbg=mk('g',{},g);
  
  
  mk('rect',{x:cL,y:T,width:cR-cL,height:B-T,fill:'url(#parula)',stroke:'#262626','stroke-width':2},cbg);
  cbTicks.forEach(v=>{
    const y=B-v/200*(B-T);
    mk('line',{x1:cR-6,x2:cR,y1:y,y2:y,stroke:'#262626','stroke-width':2},cbg);
    const t=mk('text',{x:cR+10,y:y+13,'font-size':36,fill:'#262626'},cbg);
    t.textContent=String(v);
    
    
  });
  const dl=mk('text',{x:p.dx,y:yc,'font-size':38,'text-anchor':'middle',fill:'#262626',transform:`rotate(-90 ${p.dx} ${yc}) translate(0 13)`},cbg);
  dl.textContent='Depth';
  
  
});
</script>
</body></html>
